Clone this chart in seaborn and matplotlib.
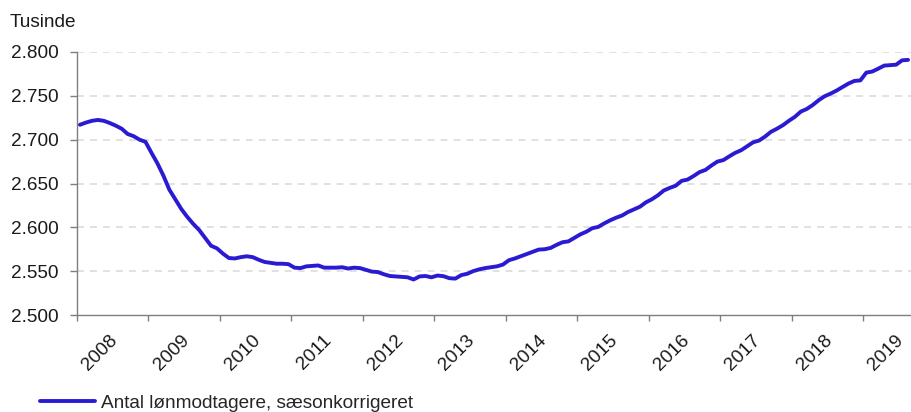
import numpy as np
import pandas as pd
import matplotlib
matplotlib.use("Agg")
import matplotlib.pyplot as plt
import seaborn as sns

# Monthly, seasonally adjusted, thousands, Jan 2008 - Aug 2019
values = [
    2717, 2719.5, 2721.5, 2722.5, 2721.5, 2719, 2716, 2712.5, 2706.5, 2704, 2700, 2697.5,
    2685, 2673, 2659, 2643, 2632, 2621, 2612, 2604, 2597, 2588, 2579, 2576,
    2570, 2565, 2564.5, 2566, 2567, 2566, 2563, 2560.5, 2559.5, 2558.5, 2558.5, 2558,
    2554, 2553.5, 2555.5, 2556, 2556.5, 2554, 2554, 2554, 2554.5, 2553, 2554, 2553.5,
    2551.5, 2549.5, 2549, 2546.5, 2544.5, 2544, 2543.5, 2543, 2540.5, 2544, 2544.5, 2543,
    2545, 2544.3, 2542, 2541.5, 2545.5, 2547, 2550, 2552, 2553.5, 2554.5, 2555.5, 2557.5,
    2562.5, 2564.5, 2567, 2569.5, 2572, 2574.6, 2575, 2576.5, 2580, 2583, 2584, 2588,
    2592, 2595, 2599, 2600.5, 2604.5, 2608, 2611, 2613.5, 2617.5, 2620.5, 2623.5, 2628.5,
    2632, 2636.5, 2642, 2645, 2647.5, 2653, 2654.5, 2658.5, 2663, 2665.5, 2670.5, 2675,
    2676.7, 2681, 2685, 2688, 2692.5, 2697, 2699, 2703.5, 2709, 2712.5, 2716.5, 2721.5,
    2726, 2732, 2735, 2739.5, 2745, 2749.5, 2752.5, 2756, 2760, 2764, 2767, 2767.6,
    2776.5, 2777.7, 2781, 2784.5, 2785, 2785.5, 2790.5, 2791,
]
years = ["2008", "2009", "2010", "2011", "2012", "2013", "2014", "2015",
         "2016", "2017", "2018", "2019"]
y_ticks = [2500, 2550, 2600, 2650, 2700, 2750, 2800]
series_name = "Antal lønmodtagere, sæsonkorrigeret"
unit_label = "Tusinde"

df = pd.DataFrame({"month": np.arange(len(values)), "value": values,
                   "serie": series_name})

sns.set_theme(style="white")
plt.rcParams["font.family"] = ["Liberation Sans", "DejaVu Sans"]
FS = 13.7
LINE_COLOR = "#2a1bd3"

fig = plt.figure(figsize=(9.11, 4.12), dpi=100)
ax = fig.add_axes([77 / 911, 1 - 315 / 412, 1 - 77 / 911, (315 - 52) / 412])

ax.set_axisbelow(True)
for t in y_ticks[1:]:
    ax.axhline(t, color="#d9d9d9", lw=1.1, dashes=(4.5, 4), zorder=0)

sns.lineplot(data=df, x="month", y="value", hue="serie",
             palette=[LINE_COLOR], lw=2.8, ax=ax, legend=False, zorder=3)

ax.set_xlim(-0.5, len(values) - 0.5)
ax.set_ylim(2500, 2800)

ax.set_yticks(y_ticks)
ax.set_yticklabels([f"{v:,}".replace(",", ".") for v in y_ticks], fontsize=FS,
                   color="#1a1a1a")
major = [-0.5 + 12 * i for i in range(len(years))]
ax.set_xticks(major)
ax.set_xticklabels([])
ax.set_xticks([-0.5 + 12 * i + 44 / 5.975 for i in range(len(years))], minor=True)
ax.set_xticklabels(years, minor=True, rotation=45, ha="right", va="top",
                   fontsize=FS, color="#1a1a1a")
ax.tick_params(axis="x", which="minor", length=0, pad=12)
ax.tick_params(axis="x", which="major", length=4, width=1.0, color="#7f7f7f",
               direction="out", bottom=True)
ax.tick_params(axis="y", length=5, width=1.0, color="#7f7f7f", pad=8,
               direction="out", left=True)

for s in ["top", "right"]:
    ax.spines[s].set_visible(False)
for s in ["left", "bottom"]:
    ax.spines[s].set_color("#7f7f7f")
    ax.spines[s].set_linewidth(1.0)

ax.set_xlabel("")
ax.set_ylabel("")

fig.text(10 / 911, 1 - 27 / 412, unit_label, fontsize=FS, color="#1a1a1a",
         ha="left", va="baseline")

handle = plt.Line2D([], [], color=LINE_COLOR, lw=2.8)
fig.legend([handle], [series_name], loc="center left",
           bbox_to_anchor=(40 / 911, 1 - 403 / 412), frameon=False,
           fontsize=FS, handlelength=2.9, handletextpad=0.3,
           borderpad=0, borderaxespad=0)

fig.savefig("out.png", dpi=100)
